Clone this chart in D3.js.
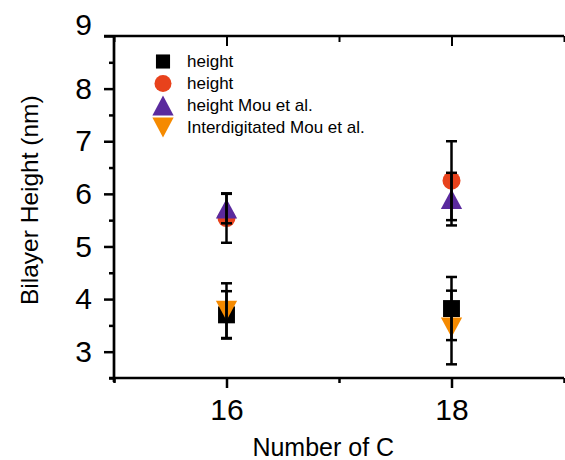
<!DOCTYPE html>
<html><head><meta charset="utf-8">
<script src="https://cdn.jsdelivr.net/npm/d3@7"></script>
<style>
html,body{margin:0;padding:0;background:#fff;}
svg{display:block;font-family:"Liberation Sans",Arial,sans-serif;}
</style></head>
<body>
<svg id="chart" width="565" height="460"></svg>
<script>
// ---- data ----
const carbonNumbers = [16, 18];
const seriesNames = ["height", "height", "height Mou et al.", "Interdigitated Mou et al."];
const seriesShapes = ["square", "circle", "triangleUp", "triangleDown"];
const seriesColors = ["#000000", "#E8421C", "#5A2A9E", "#F58A00"];
const squareValues = [3.70, 3.82];
const squareErrors = [0.45, 0.60];
const circleValues = [5.54, 6.25];
const circleErrors = [0.47, 0.75];
const triUpValues = [5.72, 5.90];
const triUpErrors = [0.28, 0.50];
const triDownValues = [3.78, 3.46];
const triDownErrors = [0.52, 0.70];
const yTickValues = [3, 4, 5, 6, 7, 8, 9];
const yMinorTicks = [2.5, 3.5, 4.5, 5.5, 6.5, 7.5, 8.5];
const xTickValues = [16, 18];
const xMinorTicks = [15, 17, 19];
const xTitle = "Number of C";
const yTitle = "Bilayer Height (nm)";

const seriesValues = [squareValues, circleValues, triUpValues, triDownValues];
const seriesErrors = [squareErrors, circleErrors, triUpErrors, triDownErrors];

const svg = d3.select("#chart");
const x = d3.scaleLinear().domain([15, 19]).range([114, 564]);
const y = d3.scaleLinear().domain([2.5, 9]).range([378, 36]);

function shapePath(shape, s) {
  if (shape === "square") { const a = s * 0.47; return `M${-a},${-a}H${a}V${a}H${-a}Z`; }
  if (shape === "circle") { const r = s * 0.5; const p = d3.path(); p.moveTo(r, 0); p.arc(0, 0, r, 0, 2 * Math.PI); p.closePath(); return p.toString(); }
  if (shape === "triangleUp") { const w = s * 0.56, t = s * 0.52; return `M0,${-t}L${w},${t}L${-w},${t}Z`; }
  if (shape === "triangleDown") { const w = s * 0.56, t = s * 0.52; return `M0,${t}L${w},${-t}L${-w},${-t}Z`; }
}

// ---- axes ----
const axisColor = "#000";
const yAxis = svg.append("g").attr("transform", `translate(${x(15)},0)`)
  .call(d3.axisLeft(y).tickValues(yTickValues).tickSize(10).tickPadding(12).tickFormat(d3.format("d")));
yAxis.select(".domain").remove();
yAxis.selectAll(".tick line").attr("stroke-width", 2.5);
yAxis.selectAll("text").attr("font-size", 30).attr("fill", "#000").attr("font-family", "Liberation Sans, Arial, sans-serif");
yAxis.selectAll(".tick").filter(d => d === 9).select("text").attr("dy", "-0.05em");
svg.append("g").attr("transform", `translate(${x(15)},0)`)
  .call(d3.axisLeft(y).tickValues(yMinorTicks).tickSize(5).tickFormat(""))
  .call(g => { g.select(".domain").remove(); g.selectAll("line").attr("stroke-width", 2.5); });

const xAxis = svg.append("g").attr("transform", `translate(0,${y(2.5)})`)
  .call(d3.axisBottom(x).tickValues(xTickValues).tickSize(10).tickPadding(11).tickFormat(d3.format("d")));
xAxis.select(".domain").remove();
xAxis.selectAll(".tick line").attr("stroke-width", 2.5);
xAxis.selectAll("text").attr("font-size", 30).attr("fill", "#000").attr("font-family", "Liberation Sans, Arial, sans-serif");
svg.append("g").attr("transform", `translate(0,${y(2.5)})`)
  .call(d3.axisBottom(x).tickValues(xMinorTicks).tickSize(5).tickFormat(""))
  .call(g => { g.select(".domain").remove(); g.selectAll("line").attr("stroke-width", 2.5); });

svg.append("g").attr("transform", `translate(0,${y(9)})`)
  .call(d3.axisBottom(x).tickValues(xTickValues).tickSize(10).tickFormat(""))
  .call(g => { g.select(".domain").remove(); g.selectAll("line").attr("stroke-width", 2); });
svg.append("g").attr("transform", `translate(0,${y(9)})`)
  .call(d3.axisBottom(x).tickValues(xMinorTicks).tickSize(6).tickFormat(""))
  .call(g => { g.select(".domain").remove(); g.selectAll("line").attr("stroke-width", 2); });

svg.append("line").attr("x1", x(15)).attr("x2", x(15)).attr("y1", y(9) - 1).attr("y2", y(2.5) + 4)
  .attr("stroke", axisColor).attr("stroke-width", 2.7);
svg.append("line").attr("x1", x(15) - 5).attr("x2", x(19)).attr("y1", y(2.5)).attr("y2", y(2.5))
  .attr("stroke", axisColor).attr("stroke-width", 2.7);
svg.append("line").attr("x1", x(15) - 10).attr("x2", x(19)).attr("y1", y(9)).attr("y2", y(9))
  .attr("stroke", axisColor).attr("stroke-width", 2.3);

svg.append("text").attr("x", x(16.86)).attr("y", 456).attr("text-anchor", "middle")
  .attr("font-size", 25).attr("fill", "#000").text(xTitle);
svg.append("text").attr("transform", `translate(38,${y(5.88)}) rotate(-90)`).attr("text-anchor", "middle")
  .attr("font-size", 24.5).attr("fill", "#000").text(yTitle);

// ---- markers ----
const markerSizes = [18, 18, 19, 19];
seriesValues.forEach((vals, si) => {
  svg.append("g").selectAll("path").data(carbonNumbers).join("path")
    .attr("d", shapePath(seriesShapes[si], markerSizes[si]))
    .attr("transform", (d, i) => `translate(${x(d)},${y(vals[i])})`)
    .attr("fill", seriesColors[si]);
});

// ---- error bars ----
seriesValues.forEach((vals, si) => {
  const errs = seriesErrors[si];
  const g = svg.append("g").attr("stroke", "#000").attr("stroke-width", 2.5);
  carbonNumbers.forEach((c, i) => {
    const cx = x(c), top = y(vals[i] + errs[i]), bot = y(vals[i] - errs[i]);
    g.append("line").attr("x1", cx).attr("x2", cx).attr("y1", top).attr("y2", bot);
    g.append("line").attr("x1", cx - 5.5).attr("x2", cx + 5.5).attr("y1", top).attr("y2", top);
    g.append("line").attr("x1", cx - 5.5).attr("x2", cx + 5.5).attr("y1", bot).attr("y2", bot);
  });
});

// ---- legend ----
const legend = svg.append("g").attr("transform", "translate(163,61.5)");
const legendSizes = [15, 17, 19, 19];
seriesNames.forEach((name, i) => {
  const row = legend.append("g").attr("transform", `translate(0,${i * 22})`);
  row.append("path").attr("d", shapePath(seriesShapes[i], legendSizes[i])).attr("fill", seriesColors[i]);
  row.append("text").attr("x", 24).attr("y", 5.5).attr("font-size", 17).attr("fill", "#000").text(name);
});
</script>
</body></html>
